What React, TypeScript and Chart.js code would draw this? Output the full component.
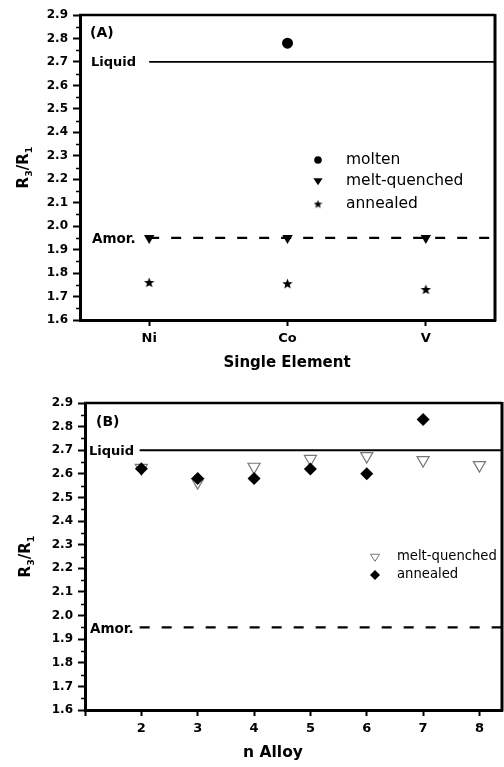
import React, { useEffect, useRef } from 'react';
import { Chart, registerables } from 'chart.js';

Chart.register(...registerables);

// ---------- data ----------
const A_CATEGORIES = ['Ni', 'Co', 'V'];
const A_X = [1, 2, 3];
const A_MOLTEN = [null, 2.78, null];
const A_MELT_QUENCHED = [1.95, 1.95, 1.95];
const A_ANNEALED = [1.76, 1.755, 1.73];

const B_N = [2, 3, 4, 5, 6, 7, 8];
const B_TICKS = [1, 2, 3, 4, 5, 6, 7, 8];
const B_MELT_QUENCHED = [2.625, 2.565, 2.63, 2.663, 2.675, 2.658, 2.637];
const B_ANNEALED = [2.622, 2.58, 2.58, 2.62, 2.6, 2.83, null];

const Y_TICKS = [1.6, 1.7, 1.8, 1.9, 2.0, 2.1, 2.2, 2.3, 2.4, 2.5, 2.6, 2.7, 2.8, 2.9];
const Y_MINOR = [1.65, 1.75, 1.85, 1.95, 2.05, 2.15, 2.25, 2.35, 2.45, 2.55, 2.65, 2.75, 2.85];

const LIQUID_LEVEL = 2.7;
const AMOR_LEVEL = 1.95;
const A_REF_X = [1, 3.5];
const B_REF_X = [1.97, 8.4];

// ---------- helpers ----------
const FONT = '"DejaVu Sans", "Liberation Sans", Arial, sans-serif';

function makeStar(size: number) {
  const c = document.createElement('canvas');
  c.width = size;
  c.height = size;
  const ctx = c.getContext('2d')!;
  const cx = size / 2, cy = size / 2 + 0.4, R = size / 2, r = R * 0.42;
  ctx.beginPath();
  for (let i = 0; i < 10; i++) {
    const ang = -Math.PI / 2 + (i * Math.PI) / 5;
    const rad = i % 2 === 0 ? R : r;
    const px = cx + rad * Math.cos(ang);
    const py = cy + rad * Math.sin(ang);
    if (i === 0) ctx.moveTo(px, py);
    else ctx.lineTo(px, py);
  }
  ctx.closePath();
  ctx.fillStyle = '#000';
  ctx.fill();
  return c;
}

type LegendItem = { kind: 'circle' | 'tri' | 'star' | 'openTri' | 'diamond'; label: string; x: number; y: number };
type Decor = {
  id: string;
  panel: string; panelX: number; panelY: number;
  textX: number;
  legend: LegendItem[];
  legendFont: string; legendTextX: number;
  xTitle: string; xTitleX: number; xTitleY: number; xTitleFont: string;
  yTitleX: number;
};

function drawLegendSymbol(ctx: CanvasRenderingContext2D, it: LegendItem, star: HTMLCanvasElement) {
  const { x, y } = it;
  ctx.save();
  ctx.fillStyle = '#000';
  ctx.strokeStyle = '#000';
  if (it.kind === 'circle') {
    ctx.beginPath(); ctx.arc(x, y, 3.8, 0, Math.PI * 2); ctx.fill();
  } else if (it.kind === 'tri' || it.kind === 'openTri') {
    const h = 4.6;
    ctx.beginPath();
    ctx.moveTo(x - h, y - h * 0.6);
    ctx.lineTo(x + h, y - h * 0.6);
    ctx.lineTo(x, y + h * 0.95);
    ctx.closePath();
    if (it.kind === 'tri') ctx.fill();
    else { ctx.fillStyle = '#fff'; ctx.fill(); ctx.strokeStyle = '#777'; ctx.lineWidth = 1; ctx.stroke(); }
  } else if (it.kind === 'star') {
    ctx.drawImage(star, x - star.width / 2, y - star.height / 2);
  } else if (it.kind === 'diamond') {
    const r = 5;
    ctx.beginPath();
    ctx.moveTo(x, y - r); ctx.lineTo(x + r, y); ctx.lineTo(x, y + r); ctx.lineTo(x - r, y);
    ctx.closePath(); ctx.fill();
  }
  ctx.restore();
}

function makeDecorPlugin(d: Decor, legendStar: HTMLCanvasElement) {
  return {
    id: d.id,
    afterDraw(chart: any) {
      const ctx: CanvasRenderingContext2D = chart.ctx;
      const { left, right, top, bottom } = chart.chartArea;
      const ys = chart.scales.y;
      ctx.save();
      // frame top & right
      ctx.strokeStyle = '#000';
      ctx.lineWidth = 2.5;
      ctx.beginPath(); ctx.moveTo(left - 1, top); ctx.lineTo(right, top); ctx.stroke();
      ctx.lineWidth = 3;
      ctx.beginPath(); ctx.moveTo(right, top - 1); ctx.lineTo(right, bottom + 1.5); ctx.stroke();
      // minor ticks
      ctx.lineWidth = 1.5;
      Y_MINOR.forEach((v) => {
        const py = Math.round(ys.getPixelForValue(v)) + 0.5;
        ctx.beginPath(); ctx.moveTo(left - 4, py); ctx.lineTo(left, py); ctx.stroke();
      });
      // annotations
      ctx.fillStyle = '#000';
      ctx.textBaseline = 'middle';
      ctx.textAlign = 'left';
      ctx.font = `bold 14px ${FONT}`;
      ctx.fillText(d.panel, d.panelX, d.panelY);
      ctx.font = `bold 13px ${FONT}`;
      ctx.fillText('Liquid', d.textX, ys.getPixelForValue(LIQUID_LEVEL) + 1);
      ctx.font = `bold 13.5px ${FONT}`;
      ctx.fillText('Amor.', d.textX + 1, ys.getPixelForValue(AMOR_LEVEL) + 2);
      // legend
      ctx.font = d.legendFont;
      d.legend.forEach((it) => {
        drawLegendSymbol(ctx, it, legendStar);
        ctx.fillStyle = '#000';
        ctx.fillText(it.label, d.legendTextX, it.y);
      });
      // x title
      ctx.textAlign = 'center';
      ctx.font = d.xTitleFont;
      ctx.fillText(d.xTitle, d.xTitleX, d.xTitleY);
      // y title R3/R1 rotated
      ctx.translate(d.yTitleX, (top + bottom) / 2);
      ctx.rotate(-Math.PI / 2);
      const big = `bold 15px ${FONT}`;
      const small = `bold 9.5px ${FONT}`;
      const parts: [string, string, number][] = [
        ['R', big, 0], ['3', small, 4], ['/R', big, 0], ['1', small, 4],
      ];
      let total = 0;
      parts.forEach(([t, f]) => { ctx.font = f; total += ctx.measureText(t).width; });
      let x = -total / 2;
      ctx.textAlign = 'left';
      ctx.textBaseline = 'alphabetic';
      parts.forEach(([t, f, dy]) => {
        ctx.font = f;
        ctx.fillText(t, x, dy);
        x += ctx.measureText(t).width;
      });
      ctx.restore();
    },
  };
}

const yTickFont = { family: FONT, weight: 'bold' as const, size: 12 };
const xTickFont = { family: FONT, weight: 'bold' as const, size: 13 };

function yScale(width: number) {
  return {
    type: 'linear',
    min: 1.6,
    max: 2.9,
    afterBuildTicks: (s: any) => { s.ticks = Y_TICKS.map((v) => ({ value: v })); },
    afterFit: (s: any) => { s.width = width; s.paddingTop = 0; s.paddingBottom = 0; },
    ticks: {
      autoSkip: false,
      padding: 5,
      color: '#000',
      font: yTickFont,
      callback: (v: any) => Number(v).toFixed(1),
    },
    grid: { drawOnChartArea: false, tickLength: 7, tickWidth: 2, tickColor: '#000' },
    border: { display: true, width: 3, color: '#000' },
  };
}

function xScale(min: number, max: number, ticks: number[], labels: (v: number) => string, height: number) {
  return {
    type: 'linear',
    min,
    max,
    afterBuildTicks: (s: any) => { s.ticks = ticks.map((v) => ({ value: v })); },
    afterFit: (s: any) => { s.height = height; s.paddingLeft = 0; s.paddingRight = 0; },
    ticks: {
      autoSkip: false,
      maxRotation: 0,
      padding: 5,
      color: '#000',
      font: xTickFont,
      callback: (v: any) => labels(Number(v)),
    },
    grid: { drawOnChartArea: false, tickLength: 6, tickWidth: 2, tickColor: '#000' },
    border: { display: true, width: 3, color: '#000' },
  };
}

function refLine(label: string, xs: number[], level: number, dashed: boolean) {
  return {
    label,
    data: xs.map((x) => ({ x, y: level })),
    showLine: true,
    pointRadius: 0,
    borderColor: '#000',
    borderWidth: dashed ? 2.2 : 1.8,
    borderDash: dashed ? [10, 12] : [],
    order: 10,
  };
}

export default function App() {
  const refA = useRef<HTMLCanvasElement>(null);
  const refB = useRef<HTMLCanvasElement>(null);

  useEffect(() => {
    const star = makeStar(11);
    const legendStar = makeStar(9);

    const chartA = new Chart(refA.current!, {
      type: 'scatter',
      data: {
        datasets: [
          {
            label: 'molten',
            data: A_X.map((x, i) => ({ x, y: A_MOLTEN[i] })).filter((p) => p.y !== null) as any,
            pointStyle: 'circle',
            pointRadius: 5.5,
            backgroundColor: '#000',
            borderColor: '#000',
            borderWidth: 0,
            order: 1,
          },
          {
            label: 'melt-quenched',
            data: A_X.map((x, i) => ({ x, y: A_MELT_QUENCHED[i] })),
            pointStyle: 'triangle',
            rotation: 180,
            pointRadius: 6,
            backgroundColor: '#000',
            borderColor: '#000',
            borderWidth: 0,
            order: 2,
          },
          {
            label: 'annealed',
            data: A_X.map((x, i) => ({ x, y: A_ANNEALED[i] })),
            pointStyle: star as any,
            pointRadius: 6,
            backgroundColor: '#000',
            order: 3,
          },
          refLine('Liquid', A_REF_X, LIQUID_LEVEL, false),
          refLine('Amor.', A_REF_X, AMOR_LEVEL, true),
        ] as any,
      },
      options: {
        responsive: false,
        animation: false,
        layout: { autoPadding: false, padding: { left: 0, right: 9, top: 15, bottom: 0 } },
        plugins: { legend: { display: false }, tooltip: { enabled: false } },
        scales: {
          x: xScale(0.5, 3.5, A_X, (v) => A_CATEGORIES[v - 1] ?? '', 63) as any,
          y: yScale(80) as any,
        },
      },
      plugins: [
        makeDecorPlugin(
          {
            id: 'decorA',
            panel: '(A)', panelX: 90, panelY: 33,
            textX: 91,
            legend: [
              { kind: 'circle', label: 'molten', x: 318, y: 160 },
              { kind: 'tri', label: 'melt-quenched', x: 318, y: 181 },
              { kind: 'star', label: 'annealed', x: 318, y: 204 },
            ],
            legendFont: `15.5px ${FONT}`, legendTextX: 346,
            xTitle: 'Single Element', xTitleX: 287, xTitleY: 363, xTitleFont: `bold 15px ${FONT}`,
            yTitleX: 28,
          },
          legendStar,
        ) as any,
      ],
    });

    const chartB = new Chart(refB.current!, {
      type: 'scatter',
      data: {
        datasets: [
          {
            label: 'annealed',
            data: B_N.map((x, i) => ({ x, y: B_ANNEALED[i] })).filter((p) => p.y !== null) as any,
            pointStyle: 'rectRot',
            pointRadius: 6.5,
            backgroundColor: '#000',
            borderColor: '#000',
            borderWidth: 0,
            order: 1,
          },
          {
            label: 'melt-quenched',
            data: B_N.map((x, i) => ({ x, y: B_MELT_QUENCHED[i] })),
            pointStyle: 'triangle',
            rotation: 180,
            pointRadius: 7,
            backgroundColor: '#fff',
            borderColor: '#777',
            borderWidth: 1.2,
            order: 2,
          },
          refLine('Liquid', B_REF_X, LIQUID_LEVEL, false),
          refLine('Amor.', B_REF_X, AMOR_LEVEL, true),
        ] as any,
      },
      options: {
        responsive: false,
        animation: false,
        layout: { autoPadding: false, padding: { left: 0, right: 2, top: 20, bottom: 0 } },
        plugins: { legend: { display: false }, tooltip: { enabled: false } },
        scales: {
          x: xScale(1, 8.4, B_TICKS, (v) => (v === 1 ? '' : String(v)), 57) as any,
          y: yScale(85) as any,
        },
      },
      plugins: [
        makeDecorPlugin(
          {
            id: 'decorB',
            panel: '(B)', panelX: 96, panelY: 39,
            textX: 89,
            legend: [
              { kind: 'openTri', label: 'melt-quenched', x: 375, y: 174 },
              { kind: 'diamond', label: 'annealed', x: 375, y: 192 },
            ],
            legendFont: `13.2px ${FONT}`, legendTextX: 397,
            xTitle: 'n Alloy', xTitleX: 273, xTitleY: 370, xTitleFont: `bold 15.5px ${FONT}`,
            yTitleX: 30,
          },
          legendStar,
        ) as any,
      ],
    });

    return () => {
      chartA.destroy();
      chartB.destroy();
    };
  }, []);

  return (
    <div style={{ position: 'absolute', left: 0, top: 0, width: 504, height: 767, background: '#fff' }}>
      <canvas ref={refA} width={504} height={383} style={{ position: 'absolute', left: 0, top: 0, display: 'block' }} />
      <canvas ref={refB} width={504} height={384} style={{ position: 'absolute', left: 0, top: 383, display: 'block' }} />
    </div>
  );
}
